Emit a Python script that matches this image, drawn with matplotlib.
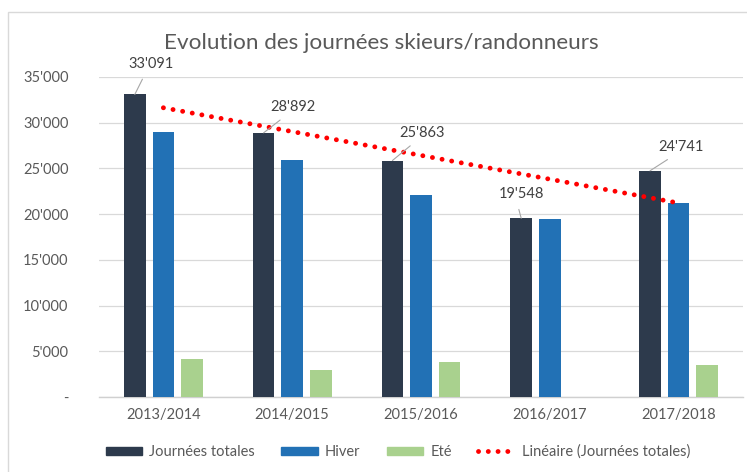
import numpy as np
import matplotlib
matplotlib.use("Agg")
import matplotlib.pyplot as plt
from matplotlib.patches import Patch, Rectangle
from matplotlib.lines import Line2D
from matplotlib.ticker import FuncFormatter, MultipleLocator

seasons = ["2013/2014", "2014/2015", "2015/2016", "2016/2017", "2017/2018"]
total = [33091, 28892, 25863, 19548, 24741]
hiver = [28960, 25960, 22060, 19420, 21260]
ete = [4131, 2932, 3803, 0, 3481]
total_labels = ["33'091", "28'892", "25'863", "19'548", "24'741"]

C_TOT = "#2d3a4c"
C_HIV = "#2271b5"
C_ETE = "#a9d18e"
C_TXT = "#595959"

plt.rcParams["font.family"] = ["Lato", "DejaVu Sans"]

fig = plt.figure(figsize=(7.47, 4.72), dpi=100)
ax = fig.add_axes([99 / 747, 1 - 397 / 472, 644 / 747, 320 / 472])

x = np.arange(len(seasons))
w = 0.168
step = 0.222
ax.bar(x - step, total, w, color=C_TOT, zorder=3)
ax.bar(x, hiver, w, color=C_HIV, zorder=3)
ax.bar(x + step, ete, w, color=C_ETE, zorder=3)

# linear trend of the totals
b, a = np.polyfit(x, total, 1)
ax.plot(x, a + b * x, color="#ff0000", lw=3.5, linestyle=(0, (0.01, 2.0)),
        dash_capstyle="round", zorder=4)

# data callouts (offsets in pixels)
offsets = [(16, 30), (29, 26), (30, 28), (0, 24), (31, 24)]
for i, (lbl, (dx, dy)) in enumerate(zip(total_labels, offsets)):
    ax.annotate(lbl, xy=(x[i] - step, total[i]), xytext=(dx, dy),
                textcoords="offset pixels", ha="center", va="center",
                fontsize=10.5, color="#404040", annotation_clip=False,
                arrowprops=dict(arrowstyle="-", color="#a6a6a6", lw=0.8,
                                relpos=(0.4, 0), shrinkA=4, shrinkB=0),
                zorder=5)

ax.set_xlim(-0.5, 4.5)
ax.set_ylim(0, 35000)
ax.yaxis.set_major_locator(MultipleLocator(5000))
ax.yaxis.set_major_formatter(FuncFormatter(
    lambda v, p: "-" if v == 0 else f"{v:,.0f}".replace(",", "'")))
ax.set_xticks(x)
ax.set_xticklabels(seasons)
ax.tick_params(axis="y", length=0, pad=22, labelsize=10.5, labelcolor=C_TXT)
ax.tick_params(axis="x", length=0, pad=8, labelsize=10.5, labelcolor=C_TXT)
ax.grid(axis="y", color="#d9d9d9", lw=0.9, zorder=0)
for s in ["top", "right", "left"]:
    ax.spines[s].set_visible(False)
ax.spines["bottom"].set_color("#d0d0d0")
ax.spines["bottom"].set_linewidth(1.0)

fig.text(381 / 747, 1 - 43 / 472, "Evolution des journées skieurs/randonneurs",
         ha="center", va="center", fontsize=16.2, color=C_TXT)

handles = [
    Patch(color=C_TOT, label="Journées totales"),
    Patch(color=C_HIV, label="Hiver"),
    Patch(color=C_ETE, label="Eté"),
    Line2D([], [], color="#ff0000", lw=3.5, linestyle=(0, (0.01, 2.0)),
           dash_capstyle="round", label="Linéaire (Journées totales)"),
]
fig.legend(handles=handles, loc="center", bbox_to_anchor=(398 / 747, 1 - 452 / 472),
           ncol=4, frameon=False, fontsize=10.5, labelcolor=C_TXT,
           handlelength=2.5, handleheight=0.55, handletextpad=0.5,
           columnspacing=1.8)

# chart border
fig.add_artist(Rectangle((8 / 747, -0.05), 1.0, 1 - 12 / 472 + 0.05,
                         transform=fig.transFigure, fill=False,
                         edgecolor="#d9d9d9", lw=1.0))

fig.savefig("out.png", dpi=100)
